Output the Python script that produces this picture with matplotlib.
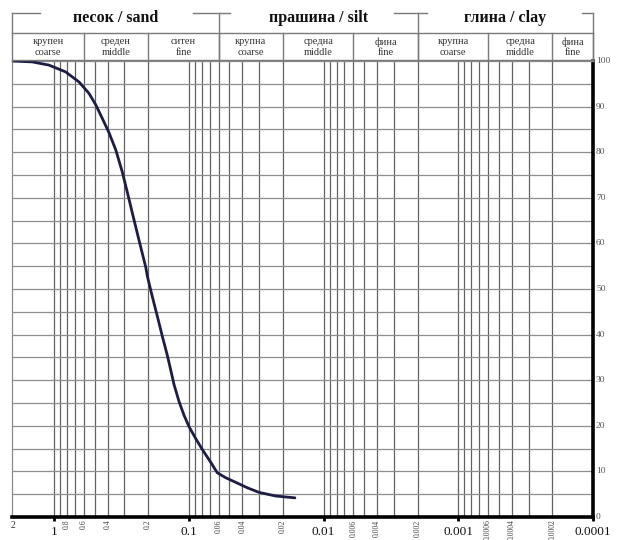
import matplotlib
matplotlib.use("Agg")
import matplotlib.pyplot as plt
from matplotlib.transforms import blended_transform_factory

plt.rcParams['font.family'] = ['Liberation Serif', 'DejaVu Serif']

# ---- data ----
grain_size = [2.04, 1.45, 1.09, 0.819, 0.652, 0.55, 0.49, 0.438, 0.391, 0.348,
              0.311, 0.2856, 0.2624, 0.234, 0.2086, 0.2029, 0.1863, 0.171,
              0.157, 0.1441, 0.136, 0.1285, 0.118, 0.1084, 0.0995, 0.0888,
              0.0793, 0.0687, 0.0614, 0.0531, 0.0448, 0.0367, 0.0301, 0.0226,
              0.0163]
passing = [100.0, 99.8, 99.1, 97.6, 95.4, 92.9, 90.4, 87.4, 84.3, 80.5,
           75.6, 71.2, 66.7, 60.7, 54.8, 52.8, 48.3, 44.0,
           39.6, 35.4, 32.2, 29.0, 25.3, 22.3, 19.8, 17.2,
           14.8, 12.0, 9.7, 8.6, 7.6, 6.4, 5.4, 4.6,
           4.2]

major_ticks = [1, 0.1, 0.01, 0.001, 0.0001]
major_labels = ['1', '0.1', '0.01', '0.001', '0.0001']
minor_ticks = [0.8, 0.6, 0.4, 0.2, 0.06, 0.04, 0.02, 0.006, 0.004, 0.002,
               0.0006, 0.0004, 0.0002]
minor_labels = ['0.8', '0.6', '0.4', '0.2', '0.06', '0.04', '0.02', '0.006',
                '0.004', '0.002', '0.0006', '0.0004', '0.0002']
y_ticks = [0, 10, 20, 30, 40, 50, 60, 70, 80, 90, 100]

groups = ['песок / sand', 'прашина / silt', 'глина / clay']
group_bounds = [(2.05, 0.06), (0.06, 0.002), (0.002, 0.0001)]
sub_names = [['крупен\ncoarse', 'среден\nmiddle', 'ситен\nfine'],
             ['крупна\ncoarse', 'средна\nmiddle', 'фина\nfine'],
             ['крупна\ncoarse', 'средна\nmiddle', 'фина\nfine']]
sub_bounds = [[(2.05, 0.6), (0.6, 0.2), (0.2, 0.06)],
              [(0.06, 0.02), (0.02, 0.006), (0.006, 0.002)],
              [(0.002, 0.0006), (0.0006, 0.0002), (0.0002, 0.0001)]]

W, H = 620, 540
fig = plt.figure(figsize=(W / 100, H / 100), dpi=100)
ax = fig.add_axes([12 / W, 23 / H, 581 / W, 456 / H])
ax.set_xscale('log')
ax.set_xlim(2.05, 0.0001)
ax.set_ylim(0, 100)

def fy(py):
    return 1 - py / H

def fx(px):
    return px / W

# grid
vgrid = [1, 0.1, 0.01, 0.001]
for e in [1, 0.1, 0.01, 0.001]:
    for m in range(2, 10):
        vgrid.append(m * e / 10)
for v in vgrid:
    ax.axvline(v, color='#626262', lw=0.9, zorder=1)
for h in range(5, 100, 5):
    ax.axhline(h, color='#8e8e8e', lw=0.9, zorder=1)

ax.plot(grain_size, passing, color='#1c1c45', lw=2.0, zorder=3,
        solid_capstyle='round', solid_joinstyle='round')

for s in ['left', 'top']:
    ax.spines[s].set_color('#8c8c8c')
    ax.spines[s].set_linewidth(0.9)
for s in ['bottom', 'right']:
    ax.spines[s].set_color('black')
    ax.spines[s].set_linewidth(2.6)

ax.set_xticks(major_ticks)
ax.set_xticklabels([])
ax.xaxis.set_minor_locator(matplotlib.ticker.NullLocator())
ax.tick_params(axis='x', which='major', length=3, width=2, color='black',
               direction='out')
ax.set_yticks([])

btr = blended_transform_factory(ax.transData, fig.transFigure)
rtr = blended_transform_factory(fig.transFigure, ax.transData)

# bottom labels
for v, lab in zip(major_ticks, major_labels):
    ax.text(v, fy(532), lab, transform=btr, ha='center', va='center',
            fontsize=9.5, color='#111111')
ax.text(2.0, fy(525), '2', transform=btr, ha='center', va='center',
        fontsize=7, color='#333333')
for v, lab in zip(minor_ticks, minor_labels):
    ax.text(v, fy(519.5), lab, transform=btr, ha='center', va='top',
            rotation=90, fontsize=5.6, color='#444444')

# right labels
for t in y_ticks:
    ax.text(fx(596), t, str(t), transform=rtr, ha='left', va='center',
            fontsize=6.8, color='#555555')

# header
hc = '#7a7a7a'
def vline_fig(xd, y0, y1):
    fig.add_artist(plt.Line2D([xd, xd], [fy(y0), fy(y1)], transform=btr,
                              color=hc, lw=1.0))

def hline_px(x0, x1, y):
    fig.add_artist(plt.Line2D([fx(x0), fx(x1)], [fy(y), fy(y)],
                              transform=fig.transFigure, color=hc, lw=1.0))

hline_px(12, 593, 33)
hline_px(12, 593, 60)
vline_fig(2.05, 13, 61)
vline_fig(0.0001, 13, 61)
vline_fig(0.06, 13, 61)
vline_fig(0.002, 13, 61)
hline_px(12, 40, 13)
hline_px(193, 230, 13)
hline_px(394, 427, 13)
hline_px(582, 593, 13)

for g, (a, b) in zip(groups, group_bounds):
    xc = (a * b) ** 0.5
    ax.text(xc, fy(17.5), g, transform=btr, ha='center', va='center',
            fontsize=11.5, fontweight='bold', color='#111111')

for names, bounds in zip(sub_names, sub_bounds):
    for n, (a, b) in zip(names, bounds):
        xc = (a * b) ** 0.5
        ax.text(xc, fy(47), n, transform=btr, ha='center', va='center',
                fontsize=7.5, color='#333333', linespacing=1.15)
        vline_fig(b, 33, 61)

fig.savefig('out.png', dpi=100)
